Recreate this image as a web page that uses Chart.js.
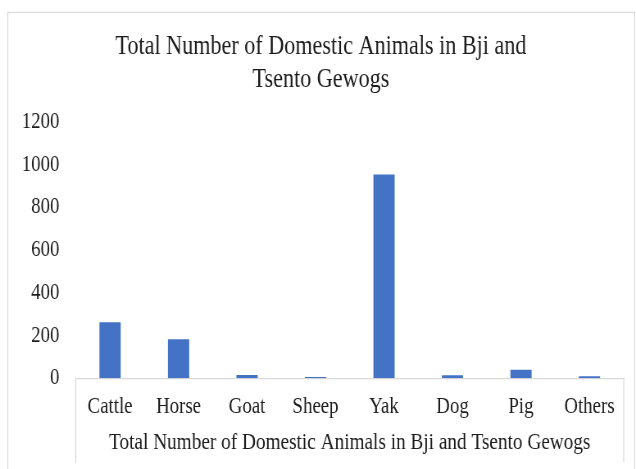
<!DOCTYPE html>
<html>
<head>
<meta charset="utf-8">
<script src="https://cdn.jsdelivr.net/npm/chart.js@4/dist/chart.umd.min.js"></script>
<style>
  html, body { margin: 0; padding: 0; background: #fff; overflow: hidden; }
  /* chart is laid out wider, then squeezed horizontally to get the narrow serif look */
  #wrap { width: 776px; height: 469px; transform: scaleX(0.8196); transform-origin: 0 0; }
</style>
</head>
<body>
<div id="wrap"><canvas id="animalsChart"></canvas></div>
<script>
// Data
const categories = ['Cattle', 'Horse', 'Goat', 'Sheep', 'Yak', 'Dog', 'Pig', 'Others'];
const animalCounts = [262, 182, 15, 6, 954, 14, 40, 9];
const yTicks = [0, 200, 400, 600, 800, 1000, 1200];
const chartTitle = ['Total Number of Domestic Animals in Bji and', 'Tsento Gewogs'];
const axisTitle = 'Total Number of Domestic Animals in Bji and Tsento Gewogs';

const BAR_COLOR = '#4472c4';
const LINE_COLOR = '#d9d9d9';
const TEXT_COLOR = '#1c1c1c';
const SERIF = '"Liberation Serif", "Times New Roman", serif';

// outer frame + the box around the category labels
const framePlugin = {
    id: 'frame',
    beforeDraw(chart) {
        const ctx = chart.ctx;
        const area = chart.chartArea;
        ctx.save();
        ctx.fillStyle = '#fff';
        ctx.fillRect(0, 0, chart.width, chart.height);
        ctx.strokeStyle = LINE_COLOR;
        ctx.lineWidth = 1.2;
        ctx.strokeRect(9.5, 12.5, chart.width - 11, chart.height + 10);
        ctx.beginPath();
        ctx.moveTo(area.left, area.bottom);
        ctx.lineTo(area.left, 463);
        ctx.moveTo(area.right, area.bottom);
        ctx.lineTo(area.right, 462);
        ctx.stroke();
        ctx.restore();
    }
};

const ctx = document.getElementById('animalsChart').getContext('2d');
new Chart(ctx, {
    type: 'bar',
    data: {
        labels: categories,
        datasets: [{
            label: axisTitle,
            data: animalCounts,
            backgroundColor: BAR_COLOR,
            borderWidth: 0,
            categoryPercentage: 1,
            barPercentage: 0.31
        }]
    },
    options: {
        responsive: true,
        maintainAspectRatio: false,
        animation: false,
        layout: {
            padding: { left: 22, right: 15, top: 12, bottom: 17 }
        },
        plugins: {
            legend: { display: false },
            tooltip: { enabled: false },
            title: {
                display: true,
                text: chartTitle,
                color: TEXT_COLOR,
                font: { family: SERIF, size: 27, weight: 'normal', lineHeight: 1.22 },
                padding: { top: 18, bottom: 26 }
            }
        },
        scales: {
            x: {
                grid: { display: false, drawTicks: false },
                border: { display: true, color: LINE_COLOR, width: 1.2 },
                ticks: {
                    color: TEXT_COLOR,
                    font: { family: SERIF, size: 23, lineHeight: 1.0 },
                    padding: 17,
                    maxRotation: 0,
                    autoSkip: false
                },
                title: {
                    display: true,
                    text: axisTitle,
                    color: TEXT_COLOR,
                    font: { family: SERIF, size: 23.5, lineHeight: 0.8 },
                    padding: { top: -2, bottom: 0 }
                }
            },
            y: {
                min: yTicks[0],
                max: yTicks[yTicks.length - 1],
                afterBuildTicks(axis) {
                    axis.ticks = yTicks.map(v => ({ value: v }));
                },
                afterFit(axis) {
                    axis.width = 70.5;
                },
                grid: { display: false, drawTicks: false },
                border: { display: false },
                ticks: {
                    color: TEXT_COLOR,
                    font: { family: SERIF, size: 23 },
                    padding: 20,
                    callback: (value) => String(value)
                }
            }
        }
    },
    plugins: [framePlugin]
});
</script>
</body>
</html>
